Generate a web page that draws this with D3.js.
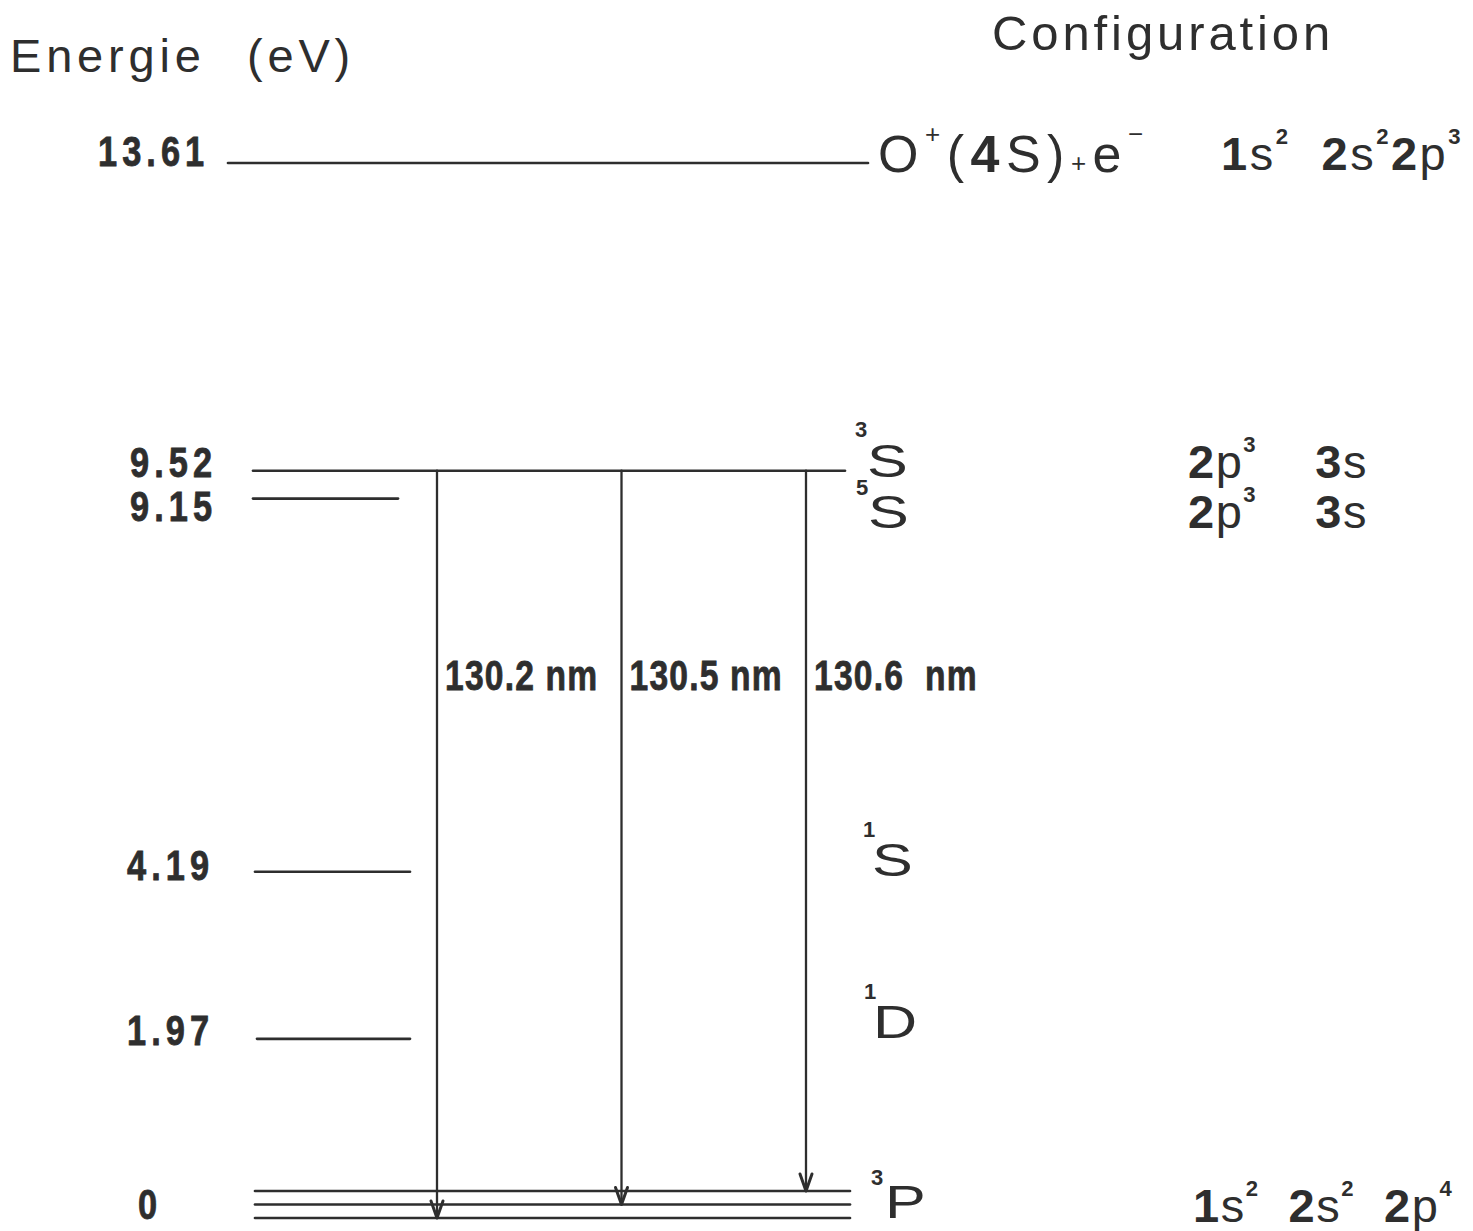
<!DOCTYPE html>
<html>
<head>
<meta charset="utf-8">
<script src="https://cdn.jsdelivr.net/npm/d3@7"></script>
<style>
  html, body { margin: 0; padding: 0; background: #fff; }
  svg text { white-space: pre; }
</style>
</head>
<body>
<svg id="chart"></svg>
<script>
// Energy-level diagram of atomic oxygen with the 130 nm resonance triplet.

// Levels: term, energy (eV), printed value
const levelTerms    = ["ion", "3S", "5S", "1S", "1D", "3P"];
const levelEnergies = [13.61, 9.52, 9.15, 4.19, 1.97, 0];
const energyLabels  = ["13.61", "9.52", "9.15", "4.19", "1.97", "0"];

// Fine-structure components of the ground term, top line to bottom line
const groundJ = [0, 1, 2];

// Resonance transitions 3S -> 3P(J)
const transitionLabels = ["130.2 nm", "130.5 nm", "130.6  nm"];
const transitionLowerJ = [2, 1, 0];
const transitionUpper  = "3S";

// Term symbols (superscript multiplicity + letter)
const termSymbols = [
  { term: "3S", mult: "3", letter: "S" },
  { term: "5S", mult: "5", letter: "S" },
  { term: "1S", mult: "1", letter: "S" },
  { term: "1D", mult: "1", letter: "D" },
  { term: "3P", mult: "3", letter: "P" }
];

// Electron configurations; b = bold digit, sup = superscript
const configs = [
  { term: "ion", tokens: [{t:"1",b:1},{t:"s"},{t:"2",sup:1,b:1},{t:"  "},{t:"2",b:1},{t:"s"},{t:"2",sup:1,b:1},{t:"2",b:1},{t:"p"},{t:"3",sup:1,b:1}] },
  { term: "3S",  tokens: [{t:"2",b:1},{t:"p"},{t:"3",sup:1,b:1},{t:"    "},{t:"3",b:1},{t:"s"}] },
  { term: "5S",  tokens: [{t:"2",b:1},{t:"p"},{t:"3",sup:1,b:1},{t:"    "},{t:"3",b:1},{t:"s"}] },
  { term: "3P",  tokens: [{t:"1",b:1},{t:"s"},{t:"2",sup:1,b:1},{t:"  "},{t:"2",b:1},{t:"s"},{t:"2",sup:1,b:1},{t:"  "},{t:"2",b:1},{t:"p"},{t:"4",sup:1,b:1}] }
];

// Ionisation limit label
const ionLabel = [{t:"O"},{t:"+",sup:1,small:1},{t:"("},{t:"4",b:1},{t:"S"},{t:")"},{t:"+",small:1},{t:"e"},{t:"\u2212",sup:1,small:1}];

// ---------------------------------------------------------------
const W = 1473, H = 1231;
const ink = "#2e2e2e";
const sans = "'Liberation Sans', Arial, Helvetica, sans-serif";

const svg = d3.select("#chart").attr("width", W).attr("height", H)
  .attr("viewBox", `0 0 ${W} ${H}`);
svg.append("rect").attr("width", W).attr("height", H).attr("fill", "#fff");

const y = d3.scaleLinear().domain([0, 13.61]).range([1187, 163]);
const yFine = d3.scalePoint().domain(groundJ).range([y(0) + 4, y(0) + 31]);
const xArrow = d3.scalePoint().domain(transitionLabels).range([437, 806]);

// horizontal extent of each level line
const levelSpan = {
  ion: [228, 868], "3S": [253, 845], "5S": [253, 398],
  "1S": [255, 410], "1D": [257, 410], "3P": [255, 850]
};
// placement of the energy values: left edge and baseline offset from the level
const valueX  = { ion: 98, "3S": 130, "5S": 130, "1S": 127, "1D": 127, "3P": 138 };
const valueDy = { ion: 3, "3S": 6, "5S": 22, "1S": 8, "1D": 6, "3P": 14 };

const levels = levelTerms.map((term, i) => ({ term, E: levelEnergies[i], label: energyLabels[i] }));
const levelY = d => d.term === "3P" ? yFine(1) : y(d.E);

// ---- titles
svg.append("text").attr("x", 10).attr("y", 72)
  .attr("font-family", sans).attr("font-size", 47).attr("letter-spacing", 4.8)
  .attr("fill", ink).text("Energie");
svg.append("text").attr("x", 247).attr("y", 72)
  .attr("font-family", sans).attr("font-size", 47).attr("letter-spacing", 4.8)
  .attr("fill", ink).text("(eV)");
svg.append("text").attr("x", 992).attr("y", 50)
  .attr("font-family", sans).attr("font-size", 49).attr("letter-spacing", 3.9)
  .attr("fill", ink).text("Configuration");

// ---- level lines
const lineG = svg.append("g").attr("stroke", ink).attr("stroke-width", 2.7).attr("stroke-linecap", "round");
levels.filter(d => d.term !== "3P").forEach(d => {
  lineG.append("line")
    .attr("x1", levelSpan[d.term][0]).attr("x2", levelSpan[d.term][1])
    .attr("y1", y(d.E)).attr("y2", y(d.E));
});
groundJ.forEach(J => {
  lineG.append("line")
    .attr("x1", levelSpan["3P"][0]).attr("x2", levelSpan["3P"][1])
    .attr("y1", yFine(J)).attr("y2", yFine(J));
});

// ---- energy values (bold condensed)
levels.forEach(d => {
  svg.append("text")
    .attr("transform", `translate(${valueX[d.term]},${levelY(d) + valueDy[d.term]}) scale(0.8,1)`)
    .attr("font-family", sans).attr("font-weight", "bold").attr("font-size", 43)
    .attr("letter-spacing", 6.3).attr("fill", ink)
    .attr("stroke", ink).attr("stroke-width", 0.8)
    .text(d.label);
});

// ---- transitions
const upperE = levelEnergies[levelTerms.indexOf(transitionUpper)];
const arrG = svg.append("g").attr("stroke", ink).attr("fill", "none").attr("stroke-linecap", "round");
transitionLabels.forEach((lab, i) => {
  const x = xArrow(lab);
  const y0 = y(upperE), y1 = yFine(transitionLowerJ[i]);
  arrG.append("line").attr("x1", x).attr("x2", x).attr("y1", y0).attr("y2", y1).attr("stroke-width", 2.3);
  arrG.append("path")
    .attr("d", `M${x - 6},${y1 - 17} L${x},${y1} L${x + 6},${y1 - 17}`)
    .attr("stroke-width", 3).attr("stroke-linejoin", "round");
  svg.append("text")
    .attr("transform", `translate(${x + 8},${690}) scale(0.8,1)`)
    .attr("font-family", sans).attr("font-weight", "bold").attr("font-size", 42)
    .attr("letter-spacing", 1.5).attr("fill", ink)
    .attr("stroke", ink).attr("stroke-width", 0.8)
    .text(lab);
});

// ---- rich text helper (mixed bold digits / superscripts)
function richText(x, yBase, tokens, size, spacing) {
  const t = svg.append("text").attr("x", x).attr("y", yBase)
    .attr("font-family", sans).attr("font-size", size).attr("fill", ink)
    .attr("letter-spacing", spacing);
  let shift = 0;
  tokens.forEach(tok => {
    const target = tok.sup ? -size * 0.55 : 0;
    const ts = t.append("tspan").text(tok.t).attr("dy", target - shift);
    shift = target;
    if (tok.b) ts.attr("font-weight", "bold");
    if (tok.small) ts.attr("font-size", size * 0.5);
    else if (tok.sup) ts.attr("font-size", size * 0.47);
  });
  return t;
}

// ---- term symbols
const termX    = { "3S": 855, "5S": 856, "1S": 863, "1D": 864, "3P": 871 };
const termGap  = { "3S": 12, "5S": 12, "1S": 9, "1D": 9, "3P": 14 };
const termLift = { "3S": 40, "5S": 33, "1S": 39, "1D": 39, "3P": 33 };
const termBase = { "3S": 477, "5S": 528, "1S": 876, "1D": 1038, "3P": 1218 };
termSymbols.forEach(s => {
  svg.append("text").attr("x", termX[s.term]).attr("y", termBase[s.term] - termLift[s.term])
    .attr("font-family", sans).attr("font-weight", "bold").attr("font-size", 22)
    .attr("fill", ink).text(s.mult);
  svg.append("text")
    .attr("transform", `translate(${termX[s.term] + termGap[s.term]},${termBase[s.term]}) scale(1.3,1)`)
    .attr("font-family", sans).attr("font-size", 47).attr("fill", ink).text(s.letter);
});

// ---- ionisation limit
richText(878, 172, ionLabel, 52, 6.5);

// ---- configurations
const configPos = { ion: [1221, 170], "3S": [1188, 478], "5S": [1188, 528], "3P": [1193, 1222] };
configs.forEach(c => {
  richText(configPos[c.term][0], configPos[c.term][1], c.tokens, 47, c.term === "ion" ? 2.5 : 1.5);
});
</script>
</body>
</html>
